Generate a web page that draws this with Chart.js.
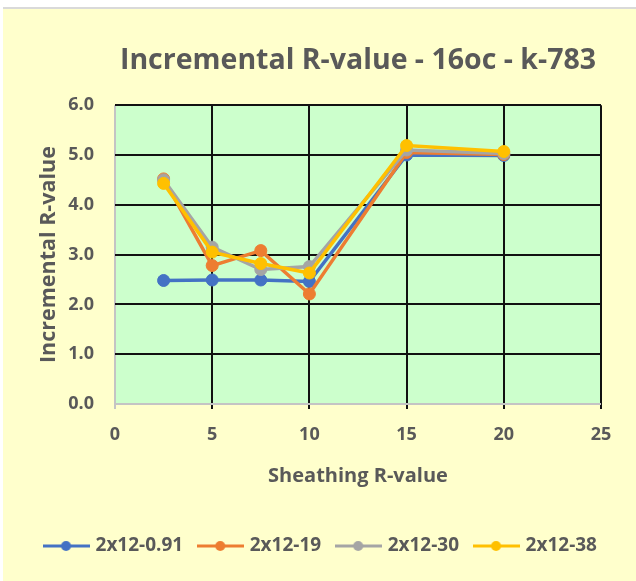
<!DOCTYPE html>
<html>
<head>
<meta charset="utf-8">
<script src="https://cdn.jsdelivr.net/npm/chart.js@4"></script>
<style>
  html, body { margin: 0; padding: 0; background: #fff; }
  #wrap { position: absolute; left: 3px; top: 7px; width: 633px; height: 572px; border-top: 2px solid #d9d9d9; background: #ffffcc; }
</style>
</head>
<body>
<div id="wrap"><canvas id="chartR" width="633" height="572"></canvas></div>
<script>
// sheathing R-value on the x axis, one series per cavity insulation
const sheathing = [2.5, 5, 7.5, 10, 15, 20];
const r091 = [2.48, 2.49, 2.49, 2.46, 5.0, 4.99];
const r19 = [4.52, 2.78, 3.08, 2.21, 5.05, 5.01];
const r30 = [4.5, 3.15, 2.7, 2.76, 5.1, 5.03];
const r38 = [4.43, 3.05, 2.82, 2.63, 5.19, 5.07];
const seriesNames = ["2x12-0.91", "2x12-19", "2x12-30", "2x12-38"];
const seriesValues = [r091, r19, r30, r38];
const seriesColors = ["#4472c4", "#ed7d31", "#a5a5a5", "#ffc000"];

const textColor = "#595959";
const fontFam = "'Open Sans', 'DejaVu Sans', sans-serif";

// legend marker: short line with a dot in the middle
function legendIcon(color) {
  const c = document.createElement("canvas");
  c.width = 47;
  c.height = 14;
  const g = c.getContext("2d");
  g.strokeStyle = color;
  g.lineWidth = 3;
  g.beginPath();
  g.moveTo(0, 7);
  g.lineTo(47, 7);
  g.stroke();
  g.fillStyle = color;
  g.beginPath();
  g.arc(23.5, 7, 5, 0, Math.PI * 2);
  g.fill();
  return c;
}

// green plot area + title centred over the plot, legend over the whole canvas
const plotFill = {
  id: "plotFill",
  afterLayout(chart) {
    const a = chart.chartArea;
    chart.titleBlock.left = a.left;
    chart.titleBlock.right = a.right;
    chart.legend.left = 0;
    chart.legend.right = chart.width + 4;
  },
  beforeDraw(chart) {
    const { ctx, chartArea: a } = chart;
    ctx.save();
    ctx.fillStyle = "#ccffcc";
    ctx.fillRect(a.left, a.top, a.right - a.left, a.bottom - a.top);
    ctx.restore();
  }
};

const gridColor = (c) => (c.tick && c.tick.value === 0 ? "#c4c4c4" : "#111111");

const datasets = seriesNames.map((name, i) => ({
  label: name,
  data: sheathing.map((x, j) => ({ x: x, y: seriesValues[i][j] })),
  borderColor: seriesColors[i],
  backgroundColor: seriesColors[i],
  borderWidth: 3.5,
  pointRadius: 6,
  pointBorderWidth: 1,
  pointHoverRadius: 6,
  tension: 0,
  order: seriesNames.length - i,
  icon: legendIcon(seriesColors[i])
}));

const ctx = document.getElementById("chartR").getContext("2d");
const chartR = new Chart(ctx, {
  type: "line",
  data: { datasets: datasets },
  plugins: [plotFill],
  options: {
    responsive: false,
    animation: false,
    layout: { padding: { left: 0, right: 35, top: 0, bottom: 15.5 } },
    plugins: {
      title: {
        display: true,
        text: "Incremental R-value - 16oc - k-783",
        color: textColor,
        font: { family: fontFam, size: 28.5, weight: "bold" },
        padding: { top: 35, bottom: 27 }
      },
      legend: {
        position: "bottom",
        labels: {
          usePointStyle: true,
          pointStyleWidth: 40,
          padding: 17,
          color: textColor,
          font: { family: fontFam, size: 19, weight: "bold" },
          generateLabels(chart) {
            return chart.data.datasets.map((d, i) => ({
              text: d.label,
              fillStyle: d.backgroundColor,
              strokeStyle: d.borderColor,
              fontColor: textColor,
              lineWidth: 0,
              pointStyle: d.icon,
              hidden: false,
              datasetIndex: i
            }));
          }
        }
      },
      tooltip: { enabled: false }
    },
    scales: {
      x: {
        type: "linear",
        min: 0,
        max: 25,
        ticks: {
          stepSize: 5,
          padding: 15,
          color: textColor,
          font: { family: fontFam, size: 18, weight: "bold" }
        },
        grid: { color: gridColor, tickColor: gridColor, lineWidth: 2, drawTicks: true, tickLength: 5 },
        border: { display: false },
        title: {
          display: true,
          text: "Sheathing R-value",
          color: textColor,
          font: { family: fontFam, size: 20, weight: "bold" },
          padding: { top: 0, bottom: 31 }
        },
        afterFit(scale) { scale.height = 115.5; }
      },
      y: {
        min: 0,
        max: 6,
        ticks: {
          stepSize: 1,
          padding: 21,
          color: textColor,
          font: { family: fontFam, size: 18, weight: "bold" },
          callback: (v) => v.toFixed(1)
        },
        grid: { color: gridColor, lineWidth: 2, drawTicks: false },
        border: { display: false },
        title: {
          display: true,
          text: "Incremental R-value",
          color: textColor,
          font: { family: fontFam, size: 21.5, weight: "bold" },
          padding: { top: 32.5, bottom: 0 }
        },
        afterFit(scale) { scale.width = 112; }
      }
    }
  }
});
</script>
</body>
</html>
